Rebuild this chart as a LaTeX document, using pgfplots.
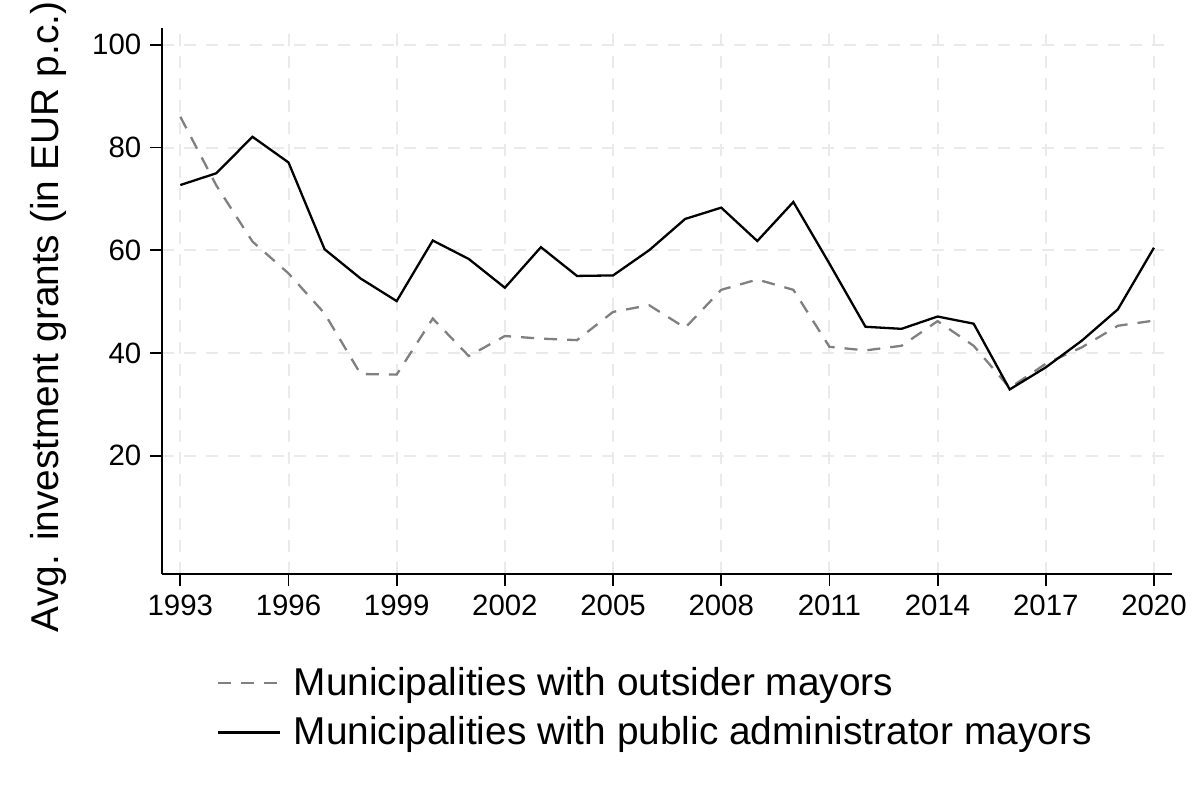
\documentclass[border=0pt]{standalone}
\usepackage{pgfplots}
\pgfplotsset{compat=1.18}
\usepackage{fontspec}
\setmainfont{Liberation Sans}
\begin{document}
\begin{tikzpicture}
\path[use as bounding box] (-162.3*0.5pt,-225.7*0.5pt) rectangle (1037.7*0.5pt,574.3*0.5pt);
\begin{axis}[
  at={(0,0)}, anchor=south west,
  scale only axis,
  width=504.85pt, height=273.2pt,
  xmin=1992.5, xmax=2020.5,
  ymin=-3.1, ymax=103.3,
  axis x line*=bottom, axis y line*=left,
  axis line style={line width=0.9pt, -},
  xtick={1993,1996,...,2020},
  ytick={20,40,60,80,100},
  tick align=outside,
  major tick length=6pt,
  tick style={line width=0.9pt, black},
  /pgf/number format/1000 sep={},
  /pgf/number format/assume math mode=true,
  tick label style={font=\fontsize{14.7}{17}\selectfont},
  xticklabel style={yshift=-1pt},
  yticklabel style={xshift=-1pt},
  grid=major,
  major grid style={line width=1pt, color={rgb,255:red,234;green,234;blue,234}, dash pattern=on 6pt off 5pt},
  ylabel={Avg. investment grants (in EUR p.c.)},
  ylabel style={at={(axis description cs:-0.1132,0.471)}, anchor=center, rotate=0, font=\fontsize{19.4}{22}\selectfont},
  legend style={at={(axis description cs:0.0532,-0.163)}, anchor=north west, draw=none, fill=none,
    font=\fontsize{19.4}{22}\selectfont, row sep=5pt, inner sep=0pt},
  legend cell align=left,
  legend image code/.code={\draw[#1] (0pt,0pt) -- (31pt,0pt);},
]
\addplot[color={rgb,255:red,128;green,128;blue,128}, line width=1.15pt, dash pattern=on 6.5pt off 5pt] coordinates {
(1993,86.0) (1994,72.6) (1995,61.7) (1996,55.5) (1997,47.7) (1998,35.9) (1999,35.8)
(2000,46.7) (2001,39.4) (2002,43.3) (2003,42.8) (2004,42.5) (2005,48.0) (2006,49.3)
(2007,44.9) (2008,52.3) (2009,54.3) (2010,52.3) (2011,41.2) (2012,40.5) (2013,41.4)
(2014,46.2) (2015,41.4) (2016,33.2) (2017,37.9) (2018,41.1) (2019,45.3) (2020,46.3)
};
\addlegendentry{\hspace{4.5pt}Municipalities with outsider mayors}
\addplot[black, line width=1.15pt] coordinates {
(1993,72.7) (1994,75.0) (1995,82.1) (1996,77.1) (1997,60.2) (1998,54.5) (1999,50.1)
(2000,61.9) (2001,58.3) (2002,52.7) (2003,60.6) (2004,55.0) (2005,55.1) (2006,60.0)
(2007,66.1) (2008,68.3) (2009,61.8) (2010,69.4) (2011,57.4) (2012,45.1) (2013,44.7)
(2014,47.1) (2015,45.7) (2016,32.9) (2017,37.2) (2018,42.4) (2019,48.5) (2020,60.5)
};
\addlegendentry{\hspace{4.5pt}Municipalities with public administrator mayors}
\end{axis}
\end{tikzpicture}
\end{document}
